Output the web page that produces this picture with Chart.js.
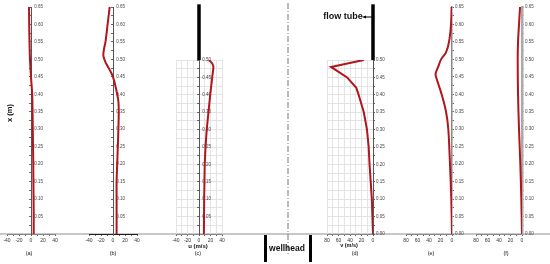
<!DOCTYPE html>
<html>
<head>
<meta charset="utf-8">
<script src="https://cdn.jsdelivr.net/npm/chart.js@4.4.0/dist/chart.umd.min.js"></script>
<style>
  html, body { margin: 0; padding: 0; background: #fff; }
  #wrap { position: relative; width: 550px; height: 264px; overflow: hidden; font-family: "Liberation Sans", Arial, sans-serif; }
  #wrap canvas, #wrap svg { position: absolute; left: 0; top: 0; }
  .lbl { position: absolute; white-space: nowrap; color: #111; line-height: 1; transform: translate(-50%, -50%); }
  .b { font-weight: bold; }
</style>
</head>
<body>
<div id="wrap">
  <svg width="550" height="264">
    <rect x="0" y="233" width="550" height="2" fill="#c8c8c8"></rect>
    <line x1="288" y1="3" x2="288" y2="256" stroke="#777" stroke-width="1" stroke-dasharray="6 2 1 2"></line>
    <rect x="264" y="235" width="3" height="27" fill="#000"></rect>
    <rect x="309" y="235" width="3" height="27" fill="#000"></rect>
    <line x1="365" y1="17" x2="372" y2="17" stroke="#000" stroke-width="1"></line>
    <polygon points="362,17 366,15.5 366,18.5" fill="#000"></polygon>
  </svg>
  <canvas id="pa" width="550" height="264"></canvas>
  <canvas id="pb" width="550" height="264"></canvas>
  <canvas id="pc" width="550" height="264"></canvas>
  <canvas id="pd" width="550" height="264"></canvas>
  <canvas id="pe" width="550" height="264"></canvas>
  <canvas id="pf" width="550" height="264"></canvas>

  <div class="lbl b" style="left:10px; top:113px; font-size:7.5px; transform: translate(-50%, -50%) rotate(-90deg);">x (m)</div>
  <div class="lbl" style="left:29px; top:254px; font-size:5.5px;">(a)</div>
  <div class="lbl" style="left:113px; top:254px; font-size:5.5px;">(b)</div>
  <div class="lbl b" style="left:198px; top:245.5px; font-size:6px;">u (m/s)</div>
  <div class="lbl" style="left:198px; top:254px; font-size:5.5px;">(c)</div>
  <div class="lbl b" style="left:349px; top:245.5px; font-size:5.5px;">v (m/s)</div>
  <div class="lbl" style="left:355px; top:254px; font-size:5.5px;">(d)</div>
  <div class="lbl" style="left:431px; top:254px; font-size:5.5px;">(e)</div>
  <div class="lbl" style="left:506px; top:254px; font-size:5.5px;">(f)</div>
  <div class="lbl b" style="left:343px; top:16px; font-size:9px;">flow tube</div>
  <div class="lbl b" style="left:287px; top:248px; font-size:8.5px;">wellhead</div>
</div>

<script>
(function () {
  "use strict";

  // tick labels
  const heightLabels = [0.05, 0.1, 0.15, 0.2, 0.25, 0.3, 0.35, 0.4, 0.45, 0.5, 0.55, 0.6, 0.65];
  const uLabels = [-40, -20, 0, 20, 40];
  const vLabels = [80, 60, 40, 20, 0];

  // profiles, height x (m) against velocity (m/s)
  const heightA = [0, 0.05, 0.1, 0.15, 0.2, 0.25, 0.3, 0.35, 0.4, 0.45, 0.5, 0.55, 0.6, 0.65];
  const speedA = [4.5, 4.5, 4.3, 4, 3.8, 3.4, 3, 2.6, 2, 0, -1.7, -2.5, -3, -3.3];

  const heightB = [0, 0.05, 0.1, 0.15, 0.2, 0.25, 0.3, 0.35, 0.38, 0.4, 0.42, 0.45, 0.47, 0.49, 0.51, 0.53, 0.55, 0.6, 0.65];
  const speedB = [6, 6, 6, 6, 7, 8, 9, 9.6, 9, 7, 4.5, 0, -5.5, -12, -16, -15, -12.5, -9, -5.5];

  const heightC = [0, 0.05, 0.1, 0.15, 0.2, 0.25, 0.3, 0.35, 0.4, 0.45, 0.47, 0.48, 0.49, 0.5];
  const speedC = [8.5, 8.7, 9, 9.5, 10, 11.4, 13.5, 16.5, 19.5, 23, 24.5, 25, 23, 17];

  const heightD = [0, 0.05, 0.1, 0.15, 0.2, 0.25, 0.3, 0.35, 0.4, 0.42, 0.45, 0.48, 0.5];
  const speedD = [0, 1, 2, 4, 6, 7.5, 10.5, 16, 25, 29, 45, 73, 16];

  const heightE = [0, 0.1, 0.2, 0.3, 0.35, 0.4, 0.45, 0.46, 0.48, 0.5, 0.52, 0.55, 0.6, 0.65];
  const speedE = [0, 1.2, 3.5, 6.4, 10.4, 18, 27.8, 28.4, 23.8, 19, 10.4, 5.2, 1.7, 0.6];

  const heightF = [0, 0.1, 0.2, 0.3, 0.4, 0.5, 0.55, 0.6, 0.65];
  const speedF = [0, 1.2, 2.9, 5.2, 6.9, 7.5, 6.9, 5.2, 3.4];

  // flow tube wall
  const wallHeight = [0.5, 0.66];
  const wallSpeed = [0, 0];

  const W = 550;
  const H = 264;
  const X_BOX = 20; // room kept under each chart for x tick labels
  const Y_BOX = 16; // room kept right of a right-hand y axis
  const RED = "#b0161b";
  const X_FONT = { family: "Liberation Sans", size: 5 };
  const Y_FONT = { family: "Liberation Sans", size: 4.5 };

  function pts(h, v) {
    return h.map((y, i) => ({ x: v[i], y: y }));
  }

  function near(list, v) {
    return list.some((l) => Math.abs(l - v) < 1e-6);
  }

  function panel(id, o) {
    const datasets = [
      {
        data: pts(o.h, o.v),
        borderColor: RED,
        borderWidth: 2,
        pointRadius: 0,
        showLine: true,
        tension: o.tension,
      },
    ];
    if (o.wall) {
      datasets.push({
        data: pts(wallHeight, wallSpeed),
        borderColor: "#000",
        borderWidth: 3.5,
        pointRadius: 0,
        showLine: true,
        clip: false,
      });
    }
    const hLabels = o.zeroLabel ? [0].concat(heightLabels) : heightLabels;
    const centred = o.yPos === "center";
    const yBox = centred ? 0 : Y_BOX;

    new Chart(document.getElementById(id), {
      type: "scatter",
      data: { datasets: datasets },
      options: {
        responsive: false,
        animation: false,
        events: [],
        layout: {
          padding: {
            left: o.area[0],
            right: W - o.area[1] - yBox,
            top: o.area[2],
            bottom: H - o.area[3] - X_BOX,
          },
        },
        plugins: { legend: { display: false }, tooltip: { enabled: false } },
        scales: {
          x: {
            type: "linear",
            position: "bottom",
            min: o.xMin,
            max: o.xMax,
            reverse: o.reverse,
            afterFit: (s) => { s.height = X_BOX; },
            ticks: {
              stepSize: 10,
              autoSkip: false,
              maxRotation: 0,
              padding: 1.5,
              color: "#333",
              font: X_FONT,
              callback: (v) => (near(o.xLabels, v) ? String(v) : ""),
            },
            grid: {
              drawOnChartArea: o.grid,
              color: "#e3e3e3",
              tickColor: "#666",
              tickLength: 2,
            },
            border: { color: o.xBorder, width: 1 },
          },
          y: {
            type: "linear",
            position: o.yPos,
            min: 0,
            max: o.yMax,
            afterFit: (s) => { s.width = yBox; },
            ticks: {
              stepSize: 0.025,
              autoSkip: false,
              padding: centred ? -14 : 1,
              color: "#444",
              font: Y_FONT,
              callback: (v) => (near(hLabels, v) ? v.toFixed(2) : ""),
            },
            grid: {
              drawOnChartArea: o.grid,
              color: "#e3e3e3",
              tickColor: "#666",
              tickLength: 2,
            },
            border: { color: o.yBorder, width: o.yWidth },
          },
        },
      },
    });
  }

  panel("pa", { h: heightA, v: speedA, tension: 0.3, area: [7, 55, 7, 234], xMin: -40, xMax: 40, yMax: 0.65, yPos: "center", xLabels: uLabels, grid: false, xBorder: "#888", yBorder: "#555", yWidth: 1 });
  panel("pb", { h: heightB, v: speedB, tension: 0.3, area: [89, 137, 7, 234], xMin: -40, xMax: 40, yMax: 0.65, yPos: "center", xLabels: uLabels, grid: false, xBorder: "#222", yBorder: "#555", yWidth: 1 });
  panel("pc", { h: heightC, v: speedC, tension: 0.3, area: [176, 222, 60, 234], xMin: -40, xMax: 40, yMax: 0.5, yPos: "center", xLabels: uLabels, grid: true, wall: true, xBorder: "#888", yBorder: "#555", yWidth: 1 });
  panel("pd", { h: heightD, v: speedD, tension: 0, area: [327, 373, 60, 234], xMin: 0, xMax: 80, reverse: true, yMax: 0.5, yPos: "right", xLabels: vLabels, grid: true, wall: true, zeroLabel: true, xBorder: "#888", yBorder: "#555", yWidth: 1 });
  panel("pe", { h: heightE, v: speedE, tension: 0.3, area: [406, 452, 7, 234], xMin: 0, xMax: 80, reverse: true, yMax: 0.65, yPos: "right", xLabels: vLabels, grid: false, zeroLabel: true, xBorder: "#888", yBorder: "#888", yWidth: 1.5 });
  panel("pf", { h: heightF, v: speedF, tension: 0.3, area: [476, 522, 7, 234], xMin: 0, xMax: 80, reverse: true, yMax: 0.65, yPos: "right", xLabels: vLabels, grid: false, zeroLabel: true, xBorder: "#888", yBorder: "#aaa", yWidth: 2.5 });
})();
</script>
</body>
</html>
